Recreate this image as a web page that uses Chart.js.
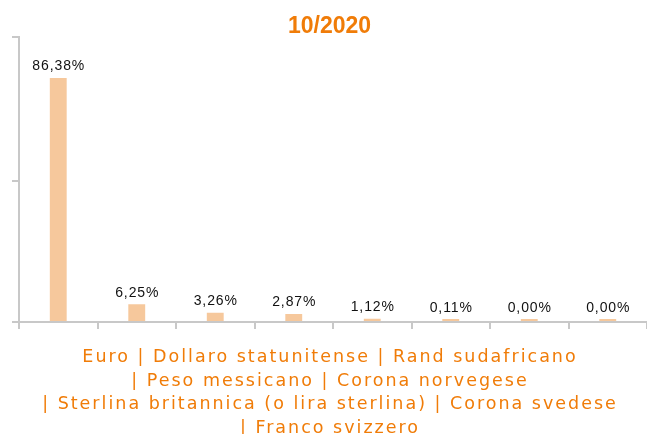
<!DOCTYPE html>
<html>
<head>
<meta charset="utf-8">
<script src="https://cdn.jsdelivr.net/npm/chart.js@4/dist/chart.umd.min.js"></script>
<style>
  html, body { margin: 0; padding: 0; background: #fff; }
  #wrap { width: 647px; height: 434px; position: relative; }
</style>
</head>
<body>
<div id="wrap"><canvas id="c" width="647" height="434"></canvas></div>
<script>
const chartTitle = "10/2020";
const categories = ["Euro", "Dollaro statunitense", "Rand sudafricano", "Peso messicano", "Corona norvegese", "Sterlina britannica (o lira sterlina)", "Corona svedese", "Franco svizzero"];
const values = [86.38, 6.25, 3.26, 2.87, 1.12, 0.11, 0.00, 0.00];
const axisTitleLines = [
  "Euro | Dollaro statunitense | Rand sudafricano",
  "| Peso messicano | Corona norvegese",
  "| Sterlina britannica (o lira sterlina) | Corona svedese",
  "| Franco svizzero"
];
const yMax = 101;
const yTicks = [0, 50, 101];

const ORANGE = "rgb(240,124,8)";
const GRID = "#c8c8c8";

const valueLabels = {
  id: "valueLabels",
  afterDatasetsDraw(chart) {
    const ctx = chart.ctx;
    const meta = chart.getDatasetMeta(0);
    ctx.save();
    ctx.font = "14px 'Liberation Sans', Arial, sans-serif";
    if ("letterSpacing" in ctx) ctx.letterSpacing = "0.9px";
    ctx.fillStyle = "#111";
    ctx.textAlign = "center";
    ctx.textBaseline = "alphabetic";
    meta.data.forEach((bar, i) => {
      const txt = values[i].toFixed(2).replace(".", ",") + "%";
      ctx.fillText(txt, bar.x + 0.5, bar.y - 7.5);
    });
    ctx.restore();
  }
};

const axisTitle = {
  id: "axisTitle",
  afterDraw(chart) {
    const ctx = chart.ctx;
    const xs = chart.scales.x;
    ctx.save();
    ctx.font = "17.5px 'DejaVu Sans', Verdana, sans-serif";
    if ("letterSpacing" in ctx) ctx.letterSpacing = "2px";
    ctx.fillStyle = ORANGE;
    ctx.textAlign = "center";
    ctx.textBaseline = "middle";
    const cx = (xs.left + xs.right) / 2 - 3;
    const y0 = xs.top + 35.5;
    axisTitleLines.forEach((line, i) => {
      ctx.fillText(line, cx, y0 + i * 23.6);
    });
    ctx.restore();
  }
};

new Chart(document.getElementById("c"), {
  type: "bar",
  data: {
    labels: categories,
    datasets: [{
      data: values,
      backgroundColor: "rgb(246,200,156)",
      borderWidth: 0,
      barPercentage: 0.215,
      categoryPercentage: 1,
      minBarLength: 3
    }]
  },
  options: {
    responsive: false,
    animation: false,
    devicePixelRatio: 1,
    layout: { padding: { top: 0, left: 12, right: 0, bottom: 0 } },
    plugins: {
      legend: { display: false },
      tooltip: { enabled: false },
      title: {
        display: true,
        text: chartTitle,
        color: ORANGE,
        font: { family: "'Liberation Sans', Arial, sans-serif", size: 23, weight: "bold", lineHeight: 0.9 },
        padding: { top: 16, bottom: 0 }
      }
    },
    scales: {
      x: {
        grid: { display: true, drawOnChartArea: false, drawTicks: true, tickLength: 7, color: GRID, lineWidth: 2, offset: true },
        border: { display: true, color: GRID, width: 2 },
        ticks: { display: false },
        afterFit(scale) { scale.height = 112; }
      },
      y: {
        min: 0,
        max: yMax,
        afterBuildTicks(scale) { scale.ticks = yTicks.map(v => ({ value: v })); },
        grid: { display: true, drawOnChartArea: false, drawTicks: true, tickLength: 7, color: GRID, lineWidth: 2 },
        border: { display: true, color: GRID, width: 2 },
        ticks: { display: false }
      }
    }
  },
  plugins: [valueLabels, axisTitle]
});
</script>
</body>
</html>
